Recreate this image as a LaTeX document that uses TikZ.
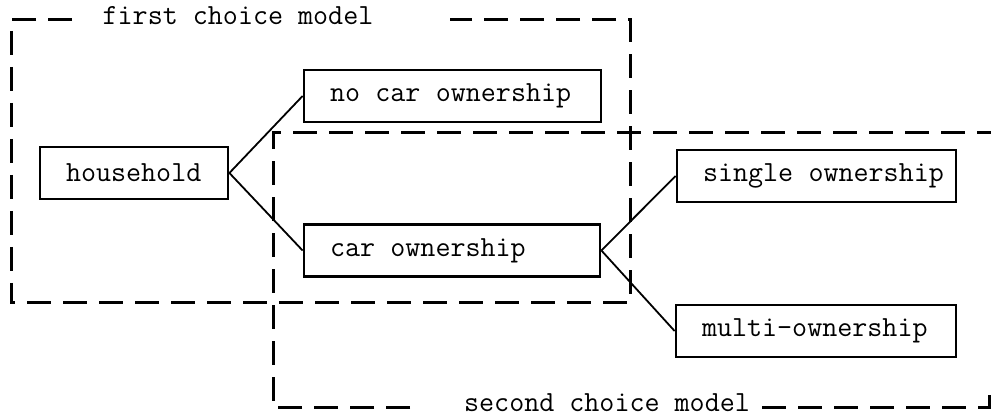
\documentclass[tikz,border=0pt]{standalone}
\usepackage{tikz}

\begin{document}
\begin{tikzpicture}[x=0.5pt, y=-0.5pt,
    box/.style={draw, line width=1.4pt, minimum height=26pt, inner xsep=13pt, inner ysep=0pt,
        text width=#1, align=left, font=\fontsize{14.6}{16}\selectfont\ttfamily,
        execute at begin node={\spaceskip=0.525em\relax}},
    frame/.style={line width=1.5pt, dash pattern=on 12pt off 6pt},
    link/.style={line width=0.9pt},
    caption/.style={font=\fontsize{14.6}{16}\selectfont\ttfamily, inner sep=0pt}]
    \useasboundingbox (0,0) rectangle (991,416);

    % Draw the boxes
    \node[box=68pt] (household) at (134,173) {household};
    \node[box=122.5pt] (nocar) at (452.5,96) {no car ownership};
    \node[box=122pt] (car) at (452,250.5) {car ownership};
    \node[box=113.5pt] (single) at (816.5,176) {single~ownership};
    \node[box=114pt] (multi) at (816,331) {multi-ownership};

    % Connect them
    \draw[link] (household.east) -- (nocar.west);
    \draw[link] (household.east) -- (car.west);
    \draw[link] (car.east) -- (single.west);
    \draw[link] (car.east) -- (multi.west);

    % First choice model frame
    \node[caption] (firstlabel) at (238,16) {first choice model};
    \draw[frame] (72,20) -- (11,20) -- (11,303) -- (630,303) -- (630,20) -- (450,20);

    % Second choice model frame
    \node[caption] (secondlabel) at (607,403) {second choice model};
    \draw[frame] (410,408) -- (273,408) -- (273,133) -- (991,133);
    \draw[frame] (762,408) -- (989,408) -- (989,388);
\end{tikzpicture}
\end{document}
